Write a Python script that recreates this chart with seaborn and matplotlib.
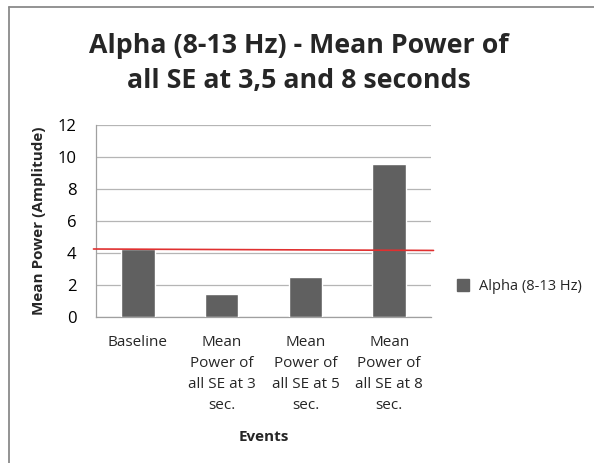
import pandas as pd
import seaborn as sns
import matplotlib.pyplot as plt
from matplotlib.lines import Line2D

sns.set_theme(style="white")
plt.rcParams['font.family'] = ['Open Sans', 'DejaVu Sans']

W, H = 594, 463

# Data
events = ['Baseline',
          'Mean\nPower of\nall SE at 3\nsec.',
          'Mean\nPower of\nall SE at 5\nsec.',
          'Mean\nPower of\nall SE at 8\nsec.']
alpha_power = [4.25, 1.45, 2.48, 9.54]
# red reference line (start / end level)
ref_level = [4.25, 4.16]

df = pd.DataFrame({'Event': events, 'Power': alpha_power})

fig = plt.figure(figsize=(W / 100, H / 100), dpi=100)
fig.patch.set_facecolor('white')
ax = fig.add_axes([96 / W, 1 - 317 / H, 335 / W, 192 / H])

sns.barplot(data=df, x='Event', y='Power', color='#606060', width=0.4,
            saturation=1, ax=ax, zorder=3)

ax.set_ylim(0, 12)
ax.set_yticks(range(0, 13, 2))
ax.set_xlim(-0.5, 3.5)
ax.yaxis.grid(True, color='#b5b5b5', linewidth=0.9, zorder=0)
ax.set_axisbelow(True)

for s in ['top', 'right']:
    ax.spines[s].set_visible(False)
for s in ['left', 'bottom']:
    ax.spines[s].set_color('#a0a0a0')
    ax.spines[s].set_linewidth(0.9)

ax.tick_params(axis='y', labelsize=12, length=5, width=0.9, color='#a0a0a0',
               direction='out', pad=9, labelcolor='#000000')
ax.tick_params(axis='x', labelsize=11, length=0, pad=13)
ax.set_xticks(range(4))
ax.set_xticklabels(events, linespacing=1.55)
ax.set_xticks([-0.5, 0.5, 1.5, 2.5, 3.5], minor=True)
ax.tick_params(axis='x', which='minor', length=5, color='#a0a0a0', width=0.9,
               direction='out')

# red line
ax.plot([-0.53, 3.53], ref_level, color='#e03030', linewidth=1.2, zorder=4,
        clip_on=False)

ax.set_xlabel('Events', fontsize=11, fontweight='bold', labelpad=12)
ax.set_ylabel('Mean Power (Amplitude)', fontsize=11, fontweight='bold', labelpad=8)

fig.text(299 / W, 1 - 53 / H, 'Alpha (8-13 Hz) - Mean Power of',
         ha='center', va='baseline', fontsize=19.3, fontweight='bold')
fig.text(299 / W, 1 - 88 / H, 'all SE at 3,5 and 8 seconds',
         ha='center', va='baseline', fontsize=19.3, fontweight='bold')

handle = Line2D([], [], marker='s', linestyle='none', color='#606060',
                markersize=8.5)
fig.legend([handle], ['Alpha (8-13 Hz)'], loc='center left',
           bbox_to_anchor=(443 / W, 1 - 287 / H), frameon=False,
           fontsize=10.5, handletextpad=0.05, borderaxespad=0)

# chart frame (left and top edges visible)
fig.add_artist(Line2D([9 / W, 9 / W], [0, 1 - 7 / H], transform=fig.transFigure,
                      color='#8a8a8a', linewidth=1.3))
fig.add_artist(Line2D([9 / W, 1], [1 - 7 / H, 1 - 7 / H], transform=fig.transFigure,
                      color='#8a8a8a', linewidth=1.3))

fig.savefig('out.png', dpi=100)
